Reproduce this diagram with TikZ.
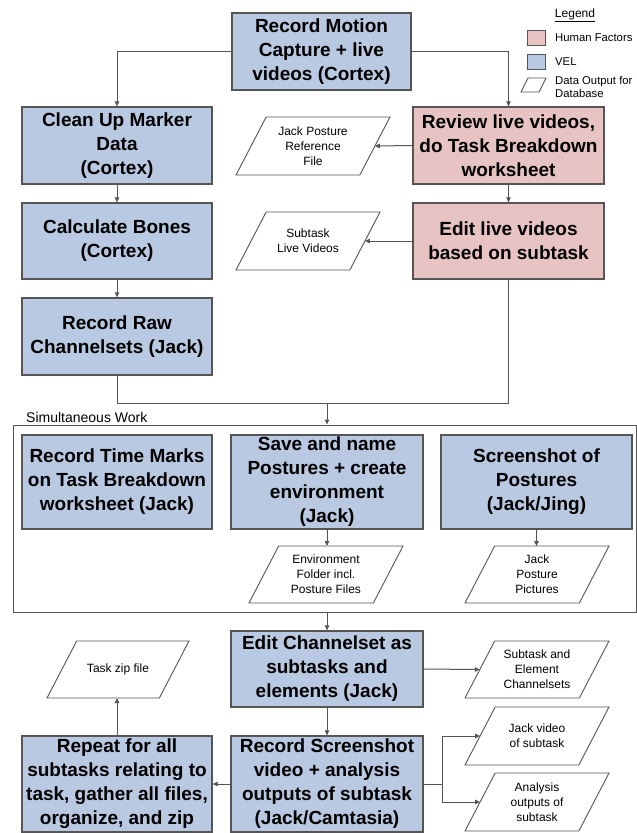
\documentclass[tikz,border=0pt]{standalone}
\usepackage{fontspec}
\setmainfont{Liberation Sans}
\usetikzlibrary{arrows.meta,calc}
\definecolor{velblue}{RGB}{185,201,225}
\definecolor{hfpink}{RGB}{231,196,195}
\definecolor{edgegray}{RGB}{85,85,85}

% process box: name, x1, y1, x2, y2, fill, text
\newcommand\procbox[7]{%
  \node[procstyle, fill=#6, minimum width={#4-#2}, minimum height={#5-#3}]
    (#1) at ({(#2+#4)/2},{(#3+#5)/2}) {#7};}
% data output parallelogram: name, xl, xr, yt, yb, text
\newcommand\dataout[6]{%
  \pgfmathsetmacro\dslant{0.52*(#5-#4)}%
  \draw[outl] (#2,#5) -- ({#3-\dslant},#5) -- (#3,#4) -- ({#2+\dslant},#4) -- cycle;
  \node[datatext] (#1) at ({(#2+#3)/2},{(#4+#5)/2}) {#6};
  \coordinate (#1-e) at ({#3-\dslant/2},{(#4+#5)/2});
  \coordinate (#1-w) at ({#2+\dslant/2},{(#4+#5)/2});
  \coordinate (#1-n) at ({(#2+#3)/2+\dslant/2},#4);
  \coordinate (#1-s) at ({(#2+#3)/2-\dslant/2},#5);}

\begin{document}
\begin{tikzpicture}[x=1pt,y=-1pt,
  procstyle/.style={draw=edgegray, line width=1.3pt, align=center, inner sep=0pt,
    font=\fontsize{19}{24}\selectfont\bfseries},
  outl/.style={draw=edgegray, line width=0.9pt, fill=white},
  datatext/.style={align=center, inner sep=0pt, font=\fontsize{12}{15}\selectfont},
  legtext/.style={anchor=west, align=left, inner sep=0pt, font=\fontsize{11.3}{12.5}\selectfont},
  conn/.style={draw=edgegray, line width=1pt, -{Triangle[length=5pt,width=4.5pt]}},
  plainline/.style={draw=edgegray, line width=1pt}]

\useasboundingbox[fill=white] (0,0) rectangle (637,833);

% container
\node[draw=edgegray, line width=1pt, minimum width=623, minimum height=187, inner sep=0pt]
  (cont) at (324.5,518.5) {};
\node[anchor=west, inner sep=0pt, font=\fontsize{14}{16}\selectfont] (simlabel) at (26,417) {Simultaneous Work};

% process boxes
\procbox{top}{232}{13}{411}{90}{velblue}{Record Motion\\Capture + live\\videos (Cortex)}
\procbox{clean}{22}{107}{212}{184}{velblue}{Clean Up Marker\\Data\\(Cortex)}
\procbox{review}{413}{107}{604}{184}{hfpink}{Review live videos,\\do Task Breakdown\\worksheet}
\procbox{calc}{22}{203}{212}{279}{velblue}{Calculate Bones\\(Cortex)}
\procbox{raw}{22}{298}{212}{375}{velblue}{Record Raw\\Channelsets (Jack)}
\procbox{editlive}{413}{203}{604}{279}{hfpink}{Edit live videos\\based on subtask}
\procbox{marks}{22}{435}{212}{529}{velblue}{Record Time Marks\\on Task Breakdown\\worksheet (Jack)}
\procbox{save}{231}{435}{423}{529}{velblue}{Save and name\\Postures + create\\environment\\(Jack)}
\procbox{shot}{441}{435}{632}{529}{velblue}{Screenshot of\\Postures\\(Jack/Jing)}
\procbox{ecs}{231}{631}{423}{707}{velblue}{Edit Channelset as\\subtasks and\\elements (Jack)}
\procbox{rs}{231}{736}{423}{832}{velblue}{Record Screenshot\\video + analysis\\outputs of subtask\\(Jack/Camtasia)}
\procbox{rep}{22}{736}{212}{832}{velblue}{Repeat for all\\subtasks relating to\\task, gather all files,\\organize, and zip}

% data outputs
\dataout{jpr}{236}{390}{117}{175}{Jack Posture\\Reference\\File}
\dataout{slv}{236}{380}{212}{270}{Subtask\\Live Videos}
\dataout{env}{249}{403}{546}{603}{Environment\\Folder incl.\\Posture Files}
\dataout{jpp}{465}{609}{546}{603}{Jack\\Posture\\Pictures}
\dataout{zip}{47}{189}{641}{698}{Task zip file}
\dataout{sec}{465}{609}{641}{698}{Subtask and\\Element\\Channelsets}
\dataout{jv}{465}{609}{707}{765}{Jack video\\of subtask}
\dataout{ao}{465}{609}{773}{831}{Analysis\\outputs of\\subtask}

% legend
\node[inner sep=0pt, font=\fontsize{12}{12.5}\selectfont] (legtitle) at (575,15) {\underline{Legend}};
\node[draw=edgegray, line width=0.9pt, fill=hfpink, minimum width=18, minimum height=15, inner sep=0pt] (lhf) at (536,37.5) {};
\node[legtext] (lhftext) at (555,37.5) {Human Factors};
\node[draw=edgegray, line width=0.9pt, fill=velblue, minimum width=18, minimum height=15, inner sep=0pt] (lvel) at (536,61.5) {};
\node[legtext] (lveltext) at (555,61.5) {VEL};
\draw[outl] (521,92) -- (539,92) -- (546,78) -- (528,78) -- cycle;
\node[legtext] (ldotext) at (555,87) {Data Output for\\Database};

% connectors
\draw[conn] (top.west) -| (clean.north);
\draw[conn] (top.east) -| (review.north);
\draw[conn] (clean) -- (calc);
\draw[conn] (calc) -- (raw);
\draw[conn] (review) -- (editlive);
\draw[conn] (review.west) -- (jpr-e);
\draw[conn] (editlive.west) -- (slv-e);
\coordinate (merge) at (327,403);
\draw[plainline] (raw.south) |- (merge);
\draw[plainline] (editlive.south) |- (merge);
\draw[conn] (merge) -- (merge |- cont.north);
\draw[conn] (save.south) -- (save.south |- env-n);
\draw[conn] (shot.south) -- (shot.south |- jpp-n);
\draw[conn] (cont.south -| ecs.north) -- (ecs.north);
\draw[conn] (ecs) -- (rs);
\draw[conn] (ecs.east) -- (sec-w);
\draw[conn] (rs.west) -- (rep.east);
\draw[conn] (rep.north) -- (rep.north |- zip-s);
\coordinate (split) at (442,784);
\draw[plainline] (rs.east) -- (split);
\draw[conn] (split) |- (jv-w);
\draw[conn] (split) |- (ao-w);
\end{tikzpicture}
\end{document}
